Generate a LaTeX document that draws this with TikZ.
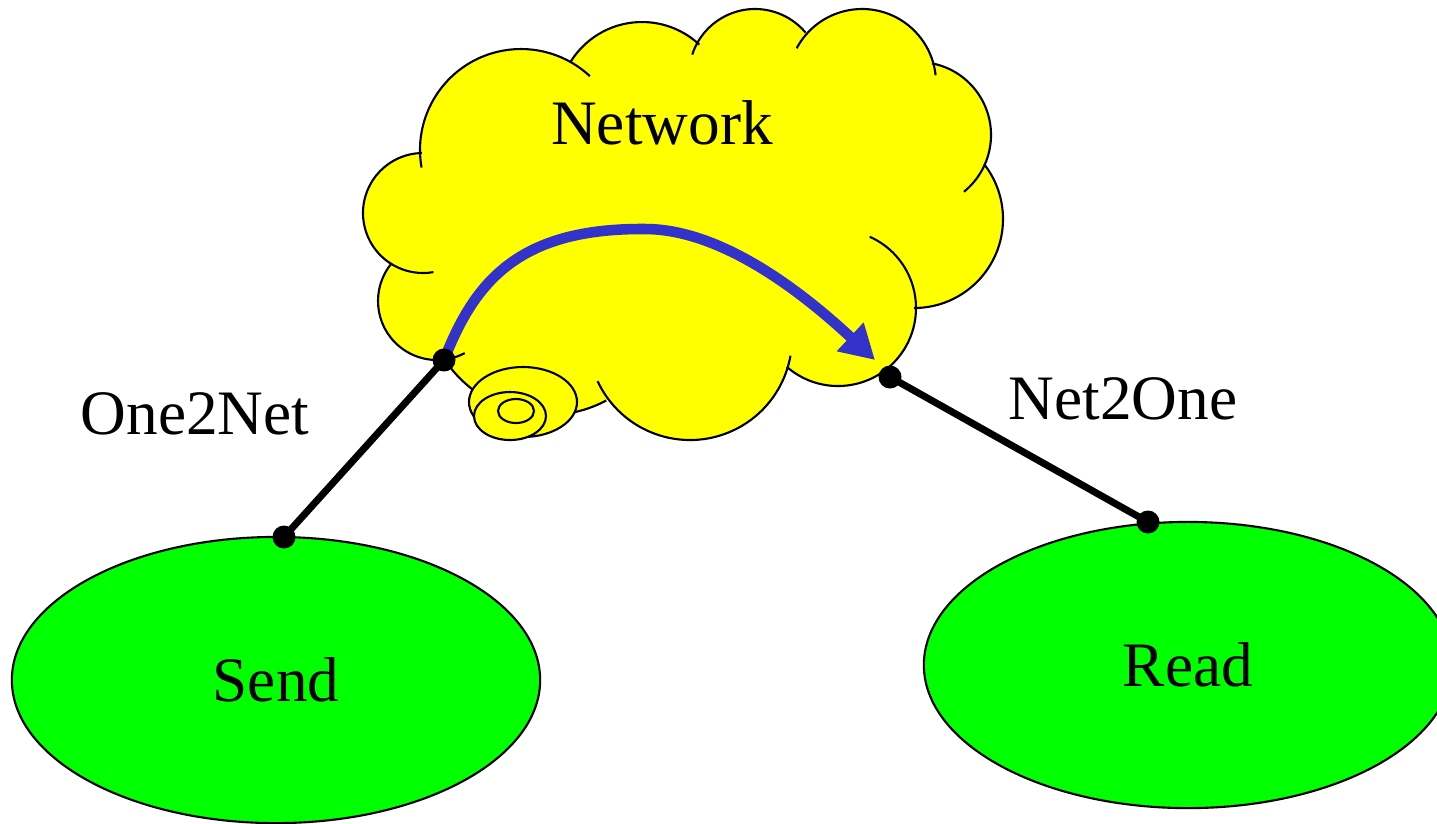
\documentclass[tikz,border=0pt]{standalone}
\usepackage{fontspec}
\setmainfont{Liberation Serif}
\usetikzlibrary{shapes.geometric, arrows.meta}
\definecolor{cloudyellow}{RGB}{255,255,0}
\definecolor{hostgreen}{RGB}{0,255,0}
\definecolor{flowblue}{RGB}{51,51,204}

\begin{document}
\begin{tikzpicture}[x=0.01cm, y=-0.01cm,
        host/.style={ellipse, draw=black, line width=0.6pt, fill=hostgreen,
                     minimum width=5.28cm, minimum height=2.86cm, font=\fontsize{18}{22}\selectfont},
        rim/.style={draw=black, line width=0.6pt},
        lbl/.style={font=\fontsize{18}{22}\selectfont, anchor=base, inner sep=0pt},
        link/.style={line width=2pt, draw=black},
        pin/.style={circle, fill=black, inner sep=0pt, minimum size=0.23cm},
        flow/.style={-{Triangle[length=0.34cm, width=0.37cm]}, line width=3pt, draw=flowblue}
    ]
    \useasboundingbox (0,0) rectangle (1437,823);
    % hosts
    \node[host] (send) at (276,680) {Send};
    \node[host] (read) at (1188,665) {Read};
    % cloud: fill the lobes, then stroke the outer arcs
    \fill[cloudyellow] (423,213) -- (437,301) -- (548,291) -- (690,338) -- (838,308) -- (914,219)
        -- (918,135) -- (862,83) -- (755,75) -- (642,106) -- (521,150) -- cycle;
    \foreach \cx/\cy/\r in {423/213/60, 437/301/59, 548/291/124, 690/338/102, 838/308/78, 914/219/89,
                            918/135/73, 862/83/74, 755/75/66, 642/106/84, 521/150/101}
        \fill[cloudyellow] (\cx,\cy) circle[radius=\r];
    \foreach \cx/\cy/\r/\s/\e in {423/213/60/-91/-280, 437/301/59/-140/-298, 548/291/124/-210/-298,
                                  690/338/102/-205/-350, 838/308/78/-229/-426, 914/219/89/-270/-398,
                                  918/135/73/-79/51, 862/83/74/-152/-6, 755/75/66/-162/-40,
                                  642/106/84/-148/-47, 521/150/101/-190/-47}
        \draw[rim] (\cx,\cy) ++(\s:\r) arc[start angle=\s, end angle=\e, radius=\r];
    % little swirl under the cloud
    \draw[rim, fill=cloudyellow] (523,402) ellipse[x radius=54, y radius=35];
    \draw[rim, fill=cloudyellow] (510,416) ellipse[x radius=36, y radius=24];
    \draw[rim] (516,411) ellipse[x radius=18, y radius=12];
    \node[lbl] (net) at (662,144) {Network};
    % attachment points
    \coordinate (o2n) at (444,360);
    \coordinate (n2o) at (890,377);
    \coordinate (sendtop) at (284,537);
    \coordinate (readtop) at (1148,522);
    \coordinate (crest) at (645,229);
    \coordinate (tip) at (875,360);
    \draw[flow] (o2n) .. controls (475,280) and (520,228) .. (crest)
        .. controls (720,229) and (800,290) .. (tip);
    \draw[link] (o2n) -- (sendtop);
    \draw[link] (n2o) -- (readtop);
    \foreach \p in {o2n, n2o, sendtop, readtop}
        \node[pin] (\p dot) at (\p) {};
    \node[lbl] (one2net) at (195,434) {One2Net};
    \node[lbl] (net2one) at (1123,419) {Net2One};
\end{tikzpicture}
\end{document}
